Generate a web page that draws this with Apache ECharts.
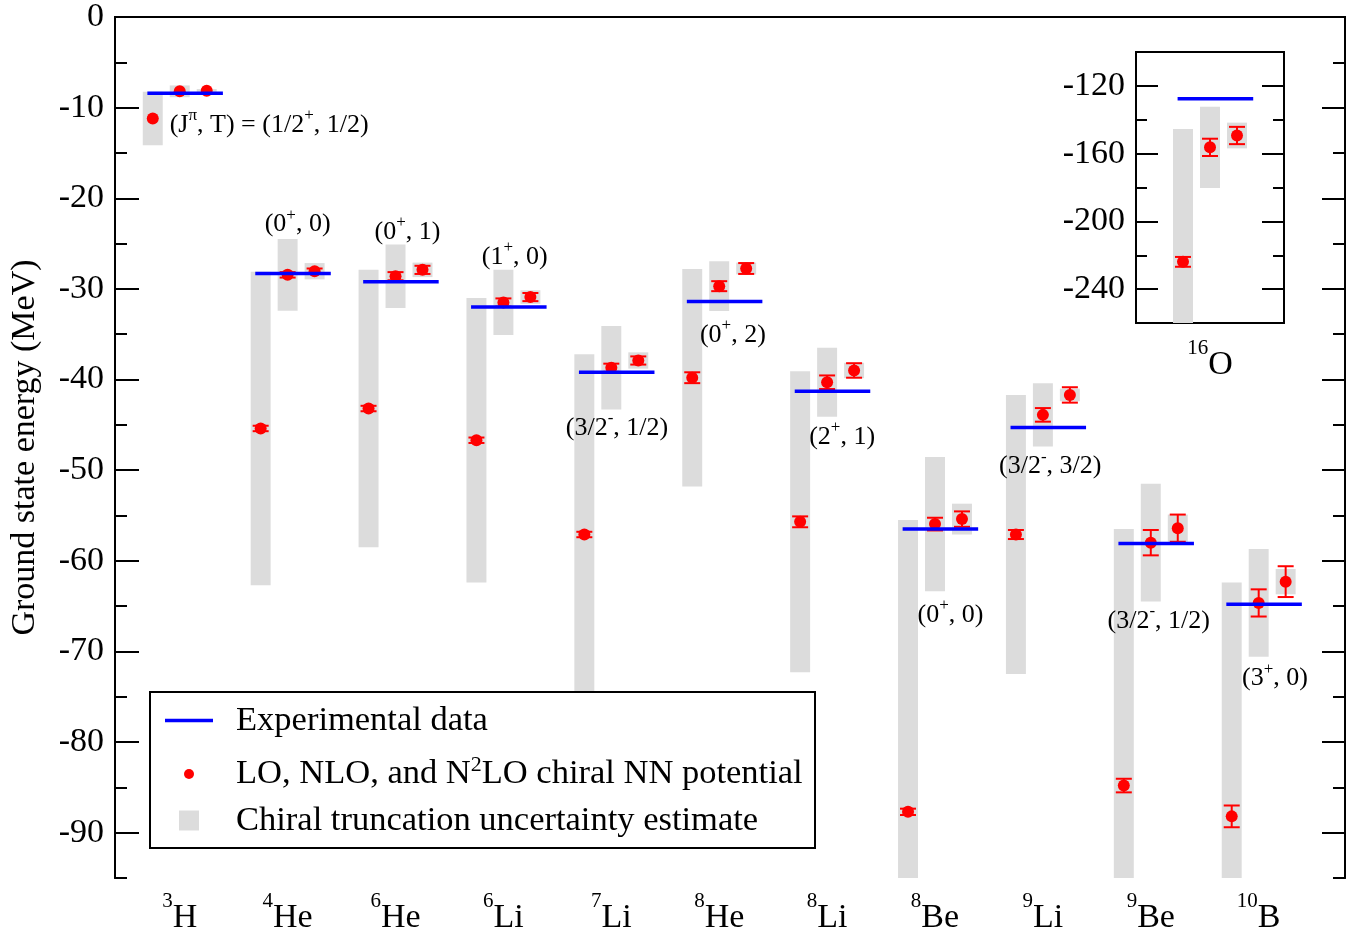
<!DOCTYPE html>
<html><head><meta charset="utf-8">
<script src="https://cdn.jsdelivr.net/npm/echarts@6/dist/echarts.min.js"></script>
<style>html,body{margin:0;padding:0;background:#fff}#c{width:1363px;height:938px}</style>
</head><body><div id="c"></div>
<script>
// ---------- data ----------
const massNumbers = ['3','4','6','6','7','8','8','8','9','9','10'];
const elements    = ['H','He','He','Li','Li','He','Li','Be','Li','Be','B'];
const expEnergy   = [-8.4, -28.3, -29.2, -32.0, -39.2, -31.4, -41.3, -56.5, -45.3, -58.1, -64.8];

const loEnergy    = [-11.2, -45.4, -43.2, -46.7, -57.1, -39.8, -55.7, -87.7, -57.1, -84.8, -88.2];
const loBand      = [2.95, 17.3, 15.3, 15.7, 19.9, 12.0, 16.6, 32.2, 15.4, 28.3, 25.8];
const loError     = [0, 0.3, 0.3, 0.3, 0.3, 0.6, 0.6, 0.35, 0.5, 0.75, 1.2];

const nloEnergy   = [-8.2, -28.45, -28.6, -31.5, -38.7, -29.7, -40.3, -55.95, -43.9, -58.0, -64.65];
const nloBand     = [0.65, 3.95, 3.5, 3.6, 4.6, 2.75, 3.8, 7.4, 3.5, 6.5, 5.95];
const nloError    = [0, 0.3, 0.45, 0.45, 0.45, 0.55, 0.75, 0.7, 0.75, 1.4, 1.5];

const n2loEnergy  = [-8.15, -28.05, -27.9, -30.9, -37.9, -27.75, -39.0, -55.4, -41.7, -56.4, -62.3];
const n2loBand    = [0.2, 0.9, 0.8, 0.75, 0.9, 0.65, 0.85, 1.7, 0.7, 1.5, 1.4];
const n2loError   = [0, 0.3, 0.45, 0.45, 0.45, 0.6, 0.8, 0.85, 0.85, 1.5, 1.7];

const o16Mass   = '16';
const o16Elem   = 'O';
const o16Exp    = -127.6;
const o16Energy = [-223.9, -156.3, -149.3];
const o16Band   = [78.4, 24.0, 7.6];
const o16Error  = [2.9, 5.1, 5.1];

const annotText = ['(J{s|\u03c0}, T) = (1/2{s|+}, 1/2)', '(0{s|+}, 0)', '(0{s|+}, 1)', '(1{s|+}, 0)',
  '(3/2{s|-}, 1/2)', '(0{s|+}, 2)', '(2{s|+}, 1)', '(0{s|+}, 0)', '(3/2{s|-}, 3/2)', '(3/2{s|-}, 1/2)', '(3{s|+}, 0)'];
const annotX = [0.907, 2.093, 3.111, 4.105, 5.053, 6.127, 7.139, 8.144, 9.068, 10.074, 11.151];
const annotY = [-11.9, -22.9, -23.7, -26.5, -45.4, -35.1, -46.4, -66.0, -49.6, -66.7, -73.0];

const yMajorMain  = [0, -10, -20, -30, -40, -50, -60, -70, -80, -90];
const yMinorMain  = [-5, -15, -25, -35, -45, -55, -65, -75, -85, -95];
const yMajorInset = [-120, -160, -200, -240];
const yMinorInset = [-140, -180, -220];

const legendNames = ['Experimental data', 'LO, NLO, and N2LO chiral NN potential', 'Chiral truncation uncertainty estimate'];

// ---------- build ----------
const FONT = 'Liberation Serif';
const offsets = [-0.25, 0, 0.25];
const orders = [
  {e: loEnergy, b: loBand, r: loError},
  {e: nloEnergy, b: nloBand, r: nloError},
  {e: n2loEnergy, b: n2loBand, r: n2loError}
];
const bandData = [], pointData = [], errData = [];
elements.forEach((_, i) => orders.forEach((o, k) => {
  const x = i + 1 + offsets[k];
  bandData.push([x, o.e[i], o.b[i]]);
  pointData.push([x, o.e[i]]);
  if (o.r[i] > 0) errData.push([x, o.e[i], o.r[i]]);
}));
const expData = expEnergy.map((v, i) => [i + 1, v]);
const oBand = o16Energy.map((v, k) => [1 + offsets[k], v, o16Band[k]]);
const oPts  = o16Energy.map((v, k) => [1 + offsets[k], v]);
const oErr  = o16Energy.map((v, k) => [1 + offsets[k], v, o16Error[k]]);
const oExp  = [[1, o16Exp]];
const annotData = annotX.map((x, i) => [x, annotY[i]]);

function bandRender(params, api) {
  const x = api.value(0), v = api.value(1), b = api.value(2);
  const p1 = api.coord([x, v + b]), p2 = api.coord([x, v - b]);
  const w = api.size([0.185, 0])[0];
  const cs = params.coordSys;
  const shape = echarts.graphic.clipRectByRect(
    {x: p1[0] - w / 2, y: p1[1], width: w, height: p2[1] - p1[1]},
    {x: cs.x, y: cs.y, width: cs.width, height: cs.height});
  return shape ? {type: 'rect', shape: shape, style: {fill: '#dcdcdc'}} : null;
}
function errRender(params, api) {
  const x = api.value(0), v = api.value(1), e = api.value(2);
  const t = api.coord([x, v + e]), b = api.coord([x, v - e]);
  const hw = 8, st = {stroke: '#ff0000', lineWidth: 2};
  return {type: 'group', children: [
    {type: 'line', shape: {x1: t[0], y1: t[1], x2: b[0], y2: b[1]}, style: st},
    {type: 'line', shape: {x1: t[0] - hw, y1: t[1], x2: t[0] + hw, y2: t[1]}, style: st},
    {type: 'line', shape: {x1: b[0] - hw, y1: b[1], x2: b[0] + hw, y2: b[1]}, style: st}
  ]};
}
function expRender(params, api) {
  const x = api.value(0), v = api.value(1);
  const a = api.coord([x - 0.3, v]), b = api.coord([x + 0.4, v]);
  return {type: 'line', shape: {x1: a[0], y1: a[1], x2: b[0], y2: b[1]}, style: {stroke: '#0000ff', lineWidth: 3.5}};
}
function annotRender(params, api) {
  const i = params.dataIndex;
  const p = api.coord([api.value(0), api.value(1)]);
  return {type: 'text', x: p[0], y: p[1], style: {
    text: annotText[i], align: i === 0 ? 'left' : 'center', verticalAlign: 'middle',
    fontFamily: FONT, fontSize: 26, lineHeight: 36, fill: '#000',
    rich: {s: {fontFamily: FONT, fontSize: 17, lineHeight: 12, verticalAlign: 'top', fill: '#000'}}
  }};
}

const lineStyle = {color: '#000', width: 2};
const labelRich = {
  sup: {fontFamily: FONT, fontSize: 21, lineHeight: 14, verticalAlign: 'top', color: '#000'},
  el:  {fontFamily: FONT, fontSize: 34, lineHeight: 54, color: '#000'}
};
function yAxisDef(grid, pos, vals, len, labels, min, max, extra) {
  return Object.assign({
    type: 'value', gridIndex: grid, position: pos, min: min, max: max,
    axisLine: {show: true, lineStyle: lineStyle},
    axisTick: {show: true, inside: true, length: len, customValues: vals, lineStyle: {color: '#000', width: 2}},
    axisLabel: labels ? {show: true, customValues: vals, margin: 11, fontFamily: FONT, fontSize: 34, color: '#000'} : {show: false},
    splitLine: {show: false}
  }, extra || {});
}

const option = {
  animation: false,
  backgroundColor: '#fff',
  textStyle: {fontFamily: FONT},
  grid: [
    {left: 113, top: 15, width: 1232, height: 863},
    {left: 1136, top: 52, width: 148, height: 271}
  ],
  xAxis: [
    {type: 'value', gridIndex: 0, position: 'bottom', min: 0.4, max: 11.8,
     axisLine: {show: true, lineStyle: lineStyle}, axisTick: {show: false}, splitLine: {show: false},
     axisLabel: {show: true, customValues: elements.map((_, i) => i + 1), margin: 13, hideOverlap: false,
       formatter: v => { const i = Math.round(v) - 1; return '{sup|' + massNumbers[i] + '}{el|' + elements[i] + '}'; },
       rich: labelRich}},
    {type: 'value', gridIndex: 0, position: 'top', min: 0.4, max: 11.8,
     axisLine: {show: true, lineStyle: lineStyle}, axisTick: {show: false}, axisLabel: {show: false}, splitLine: {show: false}},
    {type: 'value', gridIndex: 1, position: 'bottom', min: 0.315, max: 1.685,
     axisLine: {show: true, lineStyle: lineStyle}, axisTick: {show: false}, splitLine: {show: false},
     axisLabel: {show: true, customValues: [1], margin: 15, hideOverlap: false,
       formatter: () => '{sup|' + o16Mass + '}{el|' + o16Elem + '}', rich: labelRich}},
    {type: 'value', gridIndex: 1, position: 'top', min: 0.315, max: 1.685,
     axisLine: {show: true, lineStyle: lineStyle}, axisTick: {show: false}, axisLabel: {show: false}, splitLine: {show: false}}
  ],
  yAxis: [
    yAxisDef(0, 'left', yMajorMain, 24, true, -95, 0, {
      name: 'Ground state energy (MeV)', nameLocation: 'middle', nameGap: 73,
      nameTextStyle: {fontFamily: FONT, fontSize: 34, color: '#000'}}),
    yAxisDef(0, 'left', yMinorMain, 12, false, -95, 0),
    yAxisDef(0, 'right', yMajorMain, 23, false, -95, 0),
    yAxisDef(0, 'right', yMinorMain, 12, false, -95, 0),
    yAxisDef(1, 'left', yMajorInset, 22, true, -260, -100),
    yAxisDef(1, 'left', yMinorInset, 11, false, -260, -100),
    yAxisDef(1, 'right', yMajorInset, 22, false, -260, -100),
    yAxisDef(1, 'right', yMinorInset, 11, false, -260, -100)
  ],
  legend: [
    {data: [legendNames[0]], left: 165, top: 703, padding: 0, itemWidth: 48, itemHeight: 3.5, icon: 'rect',
     selectedMode: false, z: 10, formatter: n => '{g| }{m|' + n + '}',
     textStyle: {color: '#000', rich: {g: {width: 18}, m: {fontFamily: FONT, fontSize: 34.5, lineHeight: 40, color: '#000'}}}},
    {data: [legendNames[1]], left: 184, top: 754, padding: 0, itemWidth: 10, itemHeight: 10, icon: 'circle',
     selectedMode: false, z: 10,
     formatter: () => '{g| }{m|LO, NLO, and N}{s|2}{m|LO chiral NN potential}',
     textStyle: {color: '#000', rich: {g: {width: 37},
       m: {fontFamily: FONT, fontSize: 34.5, lineHeight: 40, color: '#000'},
       s: {fontFamily: FONT, fontSize: 22, lineHeight: 12, verticalAlign: 'top', color: '#000'}}}},
    {data: [legendNames[2]], left: 179, top: 803, padding: 0, itemWidth: 20, itemHeight: 20, icon: 'rect',
     selectedMode: false, z: 10, formatter: n => '{g| }{m|' + n + '}',
     textStyle: {color: '#000', rich: {g: {width: 32}, m: {fontFamily: FONT, fontSize: 34.5, lineHeight: 40, color: '#000'}}}}
  ],
  graphic: [
    {type: 'rect', z: 9, shape: {x: 150, y: 692, width: 665, height: 156},
     style: {fill: '#fff', stroke: '#000', lineWidth: 2}}
  ],
  series: [
    {type: 'custom', name: legendNames[2], xAxisIndex: 0, yAxisIndex: 0, z: 1, data: bandData,
     encode: {x: 0, y: 1}, renderItem: bandRender, itemStyle: {color: '#dcdcdc'}, silent: true},
    {type: 'custom', name: 'errors', xAxisIndex: 0, yAxisIndex: 0, z: 2, data: errData,
     encode: {x: 0, y: 1}, renderItem: errRender, silent: true},
    {type: 'scatter', name: legendNames[1], xAxisIndex: 0, yAxisIndex: 0, z: 3, data: pointData,
     symbol: 'circle', symbolSize: 12, itemStyle: {color: '#ff0000', opacity: 1}, silent: true},
    {type: 'custom', name: legendNames[0], xAxisIndex: 0, yAxisIndex: 0, z: 4, data: expData,
     encode: {x: 0, y: 1}, renderItem: expRender, itemStyle: {color: '#0000ff'}, silent: true},
    {type: 'custom', name: 'annotations', xAxisIndex: 0, yAxisIndex: 0, z: 5, data: annotData,
     encode: {x: 0, y: 1}, renderItem: annotRender, silent: true},

    {type: 'custom', name: 'o16 bands', xAxisIndex: 2, yAxisIndex: 4, z: 1, data: oBand,
     encode: {x: 0, y: 1}, renderItem: bandRender, silent: true},
    {type: 'custom', name: 'o16 errors', xAxisIndex: 2, yAxisIndex: 4, z: 2, data: oErr,
     encode: {x: 0, y: 1}, renderItem: errRender, silent: true},
    {type: 'scatter', name: 'o16 points', xAxisIndex: 2, yAxisIndex: 4, z: 3, data: oPts,
     symbol: 'circle', symbolSize: 12, itemStyle: {color: '#ff0000', opacity: 1}, silent: true},
    {type: 'custom', name: 'o16 exp', xAxisIndex: 2, yAxisIndex: 4, z: 4, data: oExp,
     encode: {x: 0, y: 1}, renderItem: expRender, silent: true}
  ]
};
const chart = echarts.init(document.getElementById('c'), null, {renderer: 'canvas'});
chart.setOption(option);
</script></body></html>
